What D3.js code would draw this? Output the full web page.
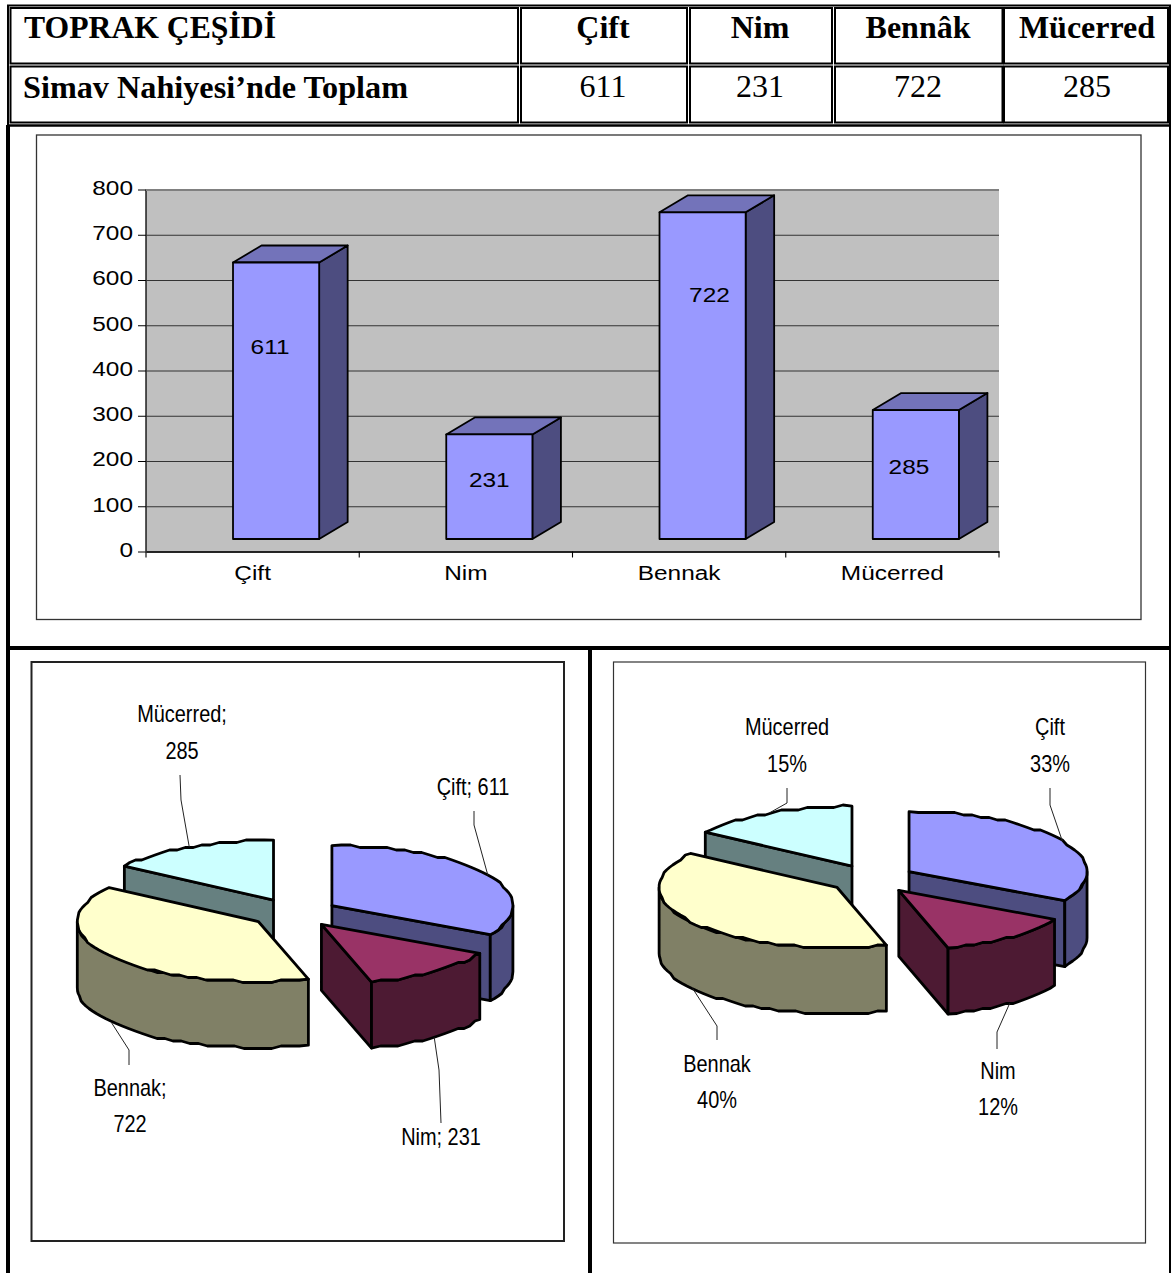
<!DOCTYPE html>
<html>
<head>
<meta charset="utf-8">
<script src="https://cdn.jsdelivr.net/npm/d3@7"></script>
<style>
  html, body { margin: 0; padding: 0; background: #fff; overflow: hidden; }
  svg { display: block; }
  .serif { font-family: "Liberation Serif", serif; fill: #000; }
  .sans { font-family: "Liberation Sans", sans-serif; fill: #000; }
</style>
</head>
<body>
<svg id="page" width="1171" height="1273"></svg>
<script>
// table
var tableTitle = 'TOPRAK ÇEŞİDİ';
var tableRowName = 'Simav Nahiyesi’nde Toplam';
var tableHeads = ['Çift', 'Nim', 'Bennâk', 'Mücerred'];

// chart data
var categories = ['Çift', 'Nim', 'Bennak', 'Mücerred'];
var values = [611, 231, 722, 285];
var yTicks = [0, 100, 200, 300, 400, 500, 600, 700, 800];
var percents = ['33%', '12%', '40%', '15%'];

var topColors = ['#9999ff', '#993366', '#ffffcc', '#ccffff'];
var sideColors = ['#4d4d80', '#4d1a33', '#808066', '#668080'];

var svg = d3.select('#page');

// squeeze or widen a text by k, the source picture is stretched unevenly
function stretch(sel, k) {
  sel.each(function() {
    this.setAttribute('textLength', this.getComputedTextLength() * k);
    this.setAttribute('lengthAdjust', 'spacingAndGlyphs');
  });
  return sel;
}

function drawFrame() {
  var g = svg.append('g').attr('fill', 'none').attr('stroke', '#000');
  var line = function(x1, y1, x2, y2, w) {
    g.append('line').attr('x1', x1).attr('y1', y1).attr('x2', x2).attr('y2', y2).attr('stroke-width', w);
  };
  // outer table lines
  line(7, 5.5, 1171, 5.5, 2);
  line(8, 5, 8, 126, 2);
  line(8, 125.5, 1171, 125.5, 2.5);
  line(1170, 5, 1170, 1273, 2);
  line(8, 125, 8, 1273, 4);
  line(7, 648, 1171, 648, 4);
  line(590, 648, 590, 1273, 4);

  // table cells
  var cellX = [[10.5, 518], [521, 687], [690, 832], [835, 1002.5], [1004, 1168]];
  var cellY = [[8, 63.5], [66.5, 122.5]];
  cellY.forEach(function(r) {
    cellX.forEach(function(c) {
      g.append('rect').attr('x', c[0]).attr('y', r[0])
        .attr('width', c[1] - c[0]).attr('height', r[1] - r[0]).attr('stroke-width', 2);
    });
  });

  // boxes round the charts
  g.append('rect').attr('x', 36.5).attr('y', 135).attr('width', 1104.5).attr('height', 484.5)
    .attr('stroke', '#333').attr('stroke-width', 1.3);
  g.append('rect').attr('x', 31.5).attr('y', 662).attr('width', 532.5).attr('height', 579)
    .attr('stroke', '#222').attr('stroke-width', 2);
  g.append('rect').attr('x', 613.5).attr('y', 662).attr('width', 532).attr('height', 581)
    .attr('stroke', '#333').attr('stroke-width', 1.2);
}

function drawTable() {
  var centers = [603, 760, 918, 1087];
  svg.append('text').attr('class', 'serif').attr('x', 24).attr('y', 38)
    .attr('font-size', 32).attr('font-weight', 'bold').attr('textLength', 252)
    .attr('lengthAdjust', 'spacingAndGlyphs').text(tableTitle);
  svg.append('text').attr('class', 'serif').attr('x', 23).attr('y', 98)
    .attr('font-size', 32).attr('font-weight', 'bold').attr('textLength', 385)
    .attr('lengthAdjust', 'spacingAndGlyphs').text(tableRowName);
  stretch(svg.selectAll('.head').data(tableHeads).enter().append('text')
    .attr('class', 'serif head').attr('text-anchor', 'middle')
    .attr('x', function(d, i) { return centers[i]; }).attr('y', 38)
    .attr('font-size', 32).attr('font-weight', 'bold')
    .text(function(d) { return d; }), 1.0);
  svg.selectAll('.num').data(values).enter().append('text')
    .attr('class', 'serif num').attr('text-anchor', 'middle')
    .attr('x', function(d, i) { return centers[i]; }).attr('y', 97)
    .attr('font-size', 32)
    .text(function(d) { return d; });
}

function drawBars() {
  var wall = { left: 146, right: 999, top: 189.5, bottom: 551.5 };
  var depth = { x: 28.5, y: -17 };
  var frontDrop = 12.5; // the front of the bars sits above the axis line
  var labelX = [0.43, 0.5, 0.58, 0.42];
  var labelY = [347, 480, 295, 467]; // not centred in the source

  var x = d3.scaleBand().domain(categories).range([wall.left, wall.right]);
  var y = d3.scaleLinear().domain([0, 800]).range([wall.bottom, wall.top]);
  var barW = x.bandwidth() * 0.404;
  var barOff = x.bandwidth() * 0.408;

  var plot = svg.append('g');
  plot.append('rect').attr('x', wall.left).attr('y', wall.top)
    .attr('width', wall.right - wall.left).attr('height', wall.bottom - wall.top)
    .attr('fill', '#c0c0c0');

  var yAxis = plot.append('g').attr('transform', 'translate(' + wall.left + ',0)')
    .call(d3.axisLeft(y).tickValues(yTicks).tickSize(8).tickPadding(5));
  yAxis.selectAll('text').attr('class', 'sans').attr('font-size', 20).attr('fill', '#000').attr('y', -1.5);
  stretch(yAxis.selectAll('text'), 1.22);
  yAxis.selectAll('.tick').append('line').attr('x2', wall.right - wall.left)
    .attr('stroke', function(d) { return d === 800 ? '#808080' : '#333'; })
    .attr('stroke-width', function(d) { return d === 800 ? 2 : 1.2; });
  yAxis.select('.domain').attr('stroke', '#000').attr('stroke-width', 1.3).attr('d', 'M0,' + wall.top + 'V' + wall.bottom);

  var xAxis = plot.append('g').attr('transform', 'translate(0,' + wall.bottom + ')')
    .call(d3.axisBottom(x).tickSize(0).tickPadding(14));
  xAxis.select('.domain').attr('stroke', '#000').attr('stroke-width', 1.3);
  xAxis.selectAll('text').attr('class', 'sans').attr('font-size', 20).attr('fill', '#000');
  stretch(xAxis.selectAll('text'), 1.22);
  // ticks stand between the categories
  xAxis.selectAll('.sep').data(categories.concat('end')).enter().append('line')
    .attr('x1', function(d, i) { return wall.left + i * x.step(); })
    .attr('x2', function(d, i) { return wall.left + i * x.step(); })
    .attr('y2', 6).attr('stroke', '#000').attr('stroke-width', 1.1);

  var bars = plot.selectAll('.bar').data(values).enter().append('g').attr('class', 'bar');
  var x0 = function(d, i) { return x(categories[i]) + barOff; };
  var yTop = function(d) { return y(d) - frontDrop; };
  var yBase = y(0) - frontDrop;
  bars.attr('stroke', '#000').attr('stroke-width', 1.8).attr('stroke-linejoin', 'round');
  // side
  bars.append('path').attr('fill', sideColors[0]).attr('d', function(d, i) {
    var r = x0(d, i) + barW;
    return d3.line()([[r, yTop(d)], [r + depth.x, yTop(d) + depth.y], [r + depth.x, yBase + depth.y], [r, yBase]]) + 'Z';
  });
  // top
  bars.append('path').attr('fill', '#7373ba').attr('d', function(d, i) {
    var l = x0(d, i), r = l + barW;
    return d3.line()([[l, yTop(d)], [l + depth.x, yTop(d) + depth.y], [r + depth.x, yTop(d) + depth.y], [r, yTop(d)]]) + 'Z';
  });
  // front
  bars.append('rect').attr('fill', topColors[0])
    .attr('x', x0).attr('y', yTop).attr('width', barW)
    .attr('height', function(d) { return yBase - yTop(d); });

  stretch(bars.append('text').attr('class', 'sans').attr('stroke', 'none')
    .attr('text-anchor', 'middle').attr('font-size', 20)
    .attr('x', function(d, i) { return x0(d, i) + barW * labelX[i]; })
    .attr('y', function(d, i) { return labelY[i]; })
    .attr('dy', 7)
    .text(function(d) { return d; }), 1.22);
}

function drawPie(cfg) {
  var rad = Math.PI / 180;
  var slices = d3.pie().sort(null).startAngle(0).endAngle(2 * Math.PI)(values);

  slices.forEach(function(s) {
    var mid = (s.startAngle + s.endAngle) / 2;
    s.apex = [cfg.cx + cfg.explode * Math.sin(mid), cfg.cy - cfg.explode * cfg.ry / cfg.rx * Math.cos(mid)];
    s.mid = mid;
  });

  var rim = function(s, a) {
    return [s.apex[0] + cfg.rx * Math.sin(a), s.apex[1] - cfg.ry * Math.cos(a)];
  };
  var down = function(p) { return [p[0], p[1] + cfg.depth]; };
  // the rim of the source is a coarse polygon, hence the snapped points
  var arcPoints = function(s, a0, a1) {
    var n = Math.max(1, Math.ceil((a1 - a0) / (cfg.step * rad)));
    return d3.range(n + 1).map(function(i) {
      var p = rim(s, a0 + (a1 - a0) * i / n);
      if (i > 0 && i < n) p = [p[0], Math.round(p[1] / 2.5) * 2.5];
      return p;
    });
  };

  var g = svg.append('g').attr('stroke', '#000').attr('stroke-width', 2.8).attr('stroke-linejoin', 'round');
  var line = d3.line();
  // back to front
  [3, 0, 2, 1].forEach(function(i) {
    var s = slices[i], a0 = s.startAngle, a1 = s.endAngle;
    var slice = g.append('g');
    if (Math.sin(a0) < -0.001) {
      slice.append('path').attr('fill', sideColors[i])
        .attr('d', line([s.apex, rim(s, a0), down(rim(s, a0)), down(s.apex)]) + 'Z');
    }
    if (Math.sin(a1) > 0.001) {
      slice.append('path').attr('fill', sideColors[i])
        .attr('d', line([s.apex, rim(s, a1), down(rim(s, a1)), down(s.apex)]) + 'Z');
    }
    var w0 = Math.max(a0, 90 * rad), w1 = Math.min(a1, 270 * rad);
    if (w1 > w0) {
      var front = arcPoints(s, w0, w1);
      slice.append('path').attr('fill', sideColors[i])
        .attr('d', line(front.concat(front.map(down).reverse())) + 'Z');
    }
    slice.append('path').attr('fill', topColors[i])
      .attr('d', line([s.apex].concat(arcPoints(s, a0, a1))) + 'Z');
  });

  // leaders and labels
  var lab = svg.append('g');
  slices.forEach(function(s, i) {
    var spot = rim(s, s.mid);
    if (Math.cos(s.mid) < 0) spot = down(spot);
    var l = cfg.labels[i];
    lab.append('path').attr('fill', 'none').attr('stroke', '#222').attr('stroke-width', 1)
      .attr('d', line(l.leader.concat([spot])));
    l.lines.forEach(function(t, j) {
      stretch(lab.append('text').attr('class', 'sans').attr('text-anchor', 'middle')
        .attr('font-size', 24).attr('x', l.x).attr('y', l.y[j]).text(t), 0.83);
    });
  });
}

drawFrame();
drawTable();
drawBars();

drawPie({
  cx: 294, cy: 913, rx: 181, ry: 60, depth: 66, explode: 44, step: 3,
  labels: [
    { x: 473, y: [795], lines: [categories[0] + '; ' + values[0]], leader: [[474, 811], [474, 825]] },
    { x: 441, y: [1145], lines: [categories[1] + '; ' + values[1]], leader: [[441, 1123], [439, 1070]] },
    { x: 130, y: [1096, 1132], lines: [categories[2] + ';', String(values[2])], leader: [[129, 1065], [129, 1050]] },
    { x: 182, y: [722, 759], lines: [categories[3] + ';', String(values[3])], leader: [[180, 775], [181, 800]] }
  ]
});

drawPie({
  cx: 872, cy: 879, rx: 178, ry: 60, depth: 66, explode: 43, step: 3,
  labels: [
    { x: 1050, y: [735, 772], lines: [categories[0], percents[0]], leader: [[1050, 788], [1050, 805]] },
    { x: 998, y: [1079, 1115], lines: [categories[1], percents[1]], leader: [[997, 1049], [997, 1032]] },
    { x: 717, y: [1072, 1108], lines: [categories[2], percents[2]], leader: [[717, 1040], [717, 1026]] },
    { x: 787, y: [735, 772], lines: [categories[3], percents[3]], leader: [[787, 788], [787, 803]] }
  ]
});
</script>
</body>
</html>
